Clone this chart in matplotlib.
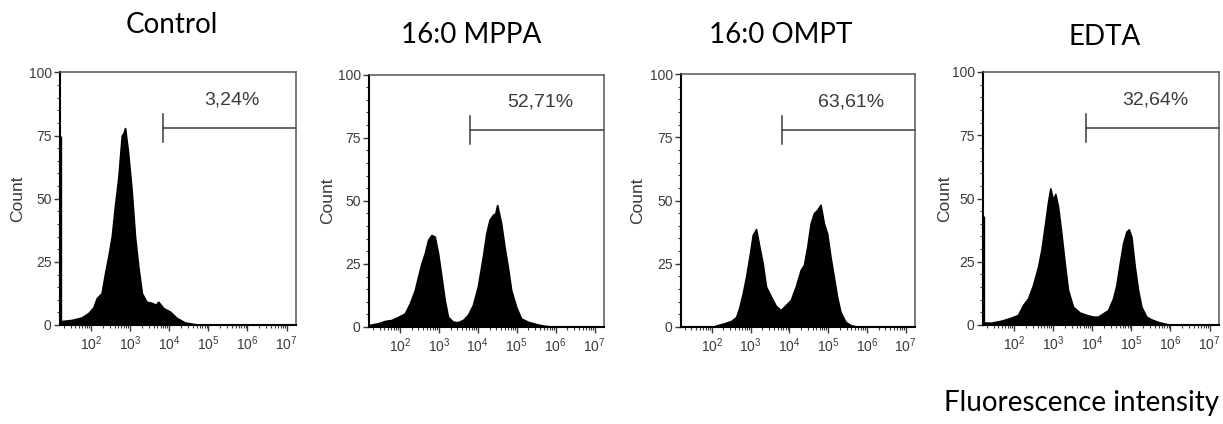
import numpy as np
import matplotlib
matplotlib.use("Agg")
import matplotlib.pyplot as plt
from matplotlib.ticker import MultipleLocator, FixedLocator, LogLocator, NullFormatter

# ---------------- data ----------------
titles = ["Control", "16:0 MPPA", "16:0 OMPT", "EDTA"]
gate_pct = ["3,24%", "52,71%", "63,61%", "32,64%"]
gate_start_log = [3.85, 3.81, 3.80, 3.84]   # log10 of gate start
gate_level = 78

# histogram outlines: log10(fluorescence) and count
ctrl_log = [1.207, 1.506, 1.76, 1.93, 2.06, 2.145, 2.27, 2.36, 2.44, 2.53, 2.61, 2.70,
            2.785, 2.83, 2.87, 2.95, 3.04, 3.125, 3.21, 3.30, 3.42, 3.55, 3.65, 3.72,
            3.85, 4.02, 4.19, 4.40, 4.66, 5.0]
ctrl_cnt = [1.5, 2, 3, 4.7, 7, 10.6, 12.6, 20.6, 27, 35, 47, 58.7,
            75, 76, 78, 68, 53, 35, 23, 12.6, 9.2, 8.8, 8, 9.2,
            6.7, 5.3, 2.8, 1, 0.3, 0]

mppa_log = [1.207, 1.445, 1.616, 1.787, 1.957, 2.128, 2.256, 2.383, 2.468, 2.554, 2.639,
            2.724, 2.81, 2.895, 2.98, 3.066, 3.15, 3.235, 3.363, 3.49, 3.62, 3.746, 3.874,
            4.0, 4.13, 4.217, 4.30, 4.387, 4.45, 4.498, 4.60, 4.685, 4.77, 4.856, 4.984,
            5.11, 5.28, 5.537, 5.71, 6.0]
mppa_cnt = [0.8, 1.5, 2.4, 2.8, 4, 5.4, 9.4, 14.6, 20, 25.2, 29.2,
            34.5, 36.4, 35.8, 29.2, 20, 10.7, 4, 2.1, 1.9, 2.8, 4.8, 8.7,
            16, 27.8, 37, 42.4, 44.4, 45, 48.3, 41, 31.8, 23.9, 14.7, 8,
            3.4, 2.1, 1, 0.5, 0]

ompt_log = [2.0, 2.161, 2.332, 2.503, 2.631, 2.716, 2.80, 2.887, 2.972, 3.057, 3.143,
            3.227, 3.312, 3.398, 3.526, 3.654, 3.78, 3.91, 4.038, 4.166, 4.294, 4.378,
            4.463, 4.55, 4.634, 4.72, 4.805, 4.89, 4.974, 5.06, 5.145, 5.23, 5.317,
            5.445, 5.57, 5.70, 5.9]
ompt_cnt = [0, 0.8, 1.5, 2.4, 4, 8, 13.3, 20, 27.8, 36.4, 38.7,
            31.8, 25.2, 16, 12, 8.3, 6.7, 8.7, 10.7, 16, 22.6, 24.6,
            31.8, 41, 45, 46.3, 48.3, 41, 37, 27.8, 20, 12, 6,
            2.1, 0.8, 0.3, 0]

edta_log = [1.207, 1.42, 1.675, 1.93, 2.102, 2.23, 2.358, 2.486, 2.614, 2.698, 2.784,
            2.87, 2.928, 2.997, 3.056, 3.125, 3.21, 3.296, 3.38, 3.509, 3.68, 3.85,
            4.02, 4.148, 4.276, 4.404, 4.532, 4.617, 4.703, 4.788, 4.873, 4.934, 5.0,
            5.087, 5.171, 5.256, 5.384, 5.512, 5.683, 6.0]
edta_cnt = [1, 0.9, 1.7, 2.9, 4, 7.9, 10.5, 15.8, 23, 29.6, 38.9,
            48.7, 54, 49.4, 51.8, 46.8, 36.2, 24.4, 13.8, 7.2, 4.9, 4,
            3.3, 3.3, 4.6, 5.9, 10.5, 15.8, 24.4, 32.3, 36.9, 37.8, 34.9,
            23, 13.8, 7.2, 3.3, 2.2, 1.2, 0]

hist_logs = [ctrl_log, mppa_log, ompt_log, edta_log]
hist_cnts = [ctrl_cnt, mppa_cnt, ompt_cnt, edta_cnt]
first_bin = [75, 0, 0, 43]   # off-scale events piled in the lowest channel

xtick_exp = [2, 3, 4, 5, 6, 7]
ytick_vals = [0, 25, 50, 75, 100]

# ---------------- layout ----------------
W, H = 1223, 424
fig = plt.figure(figsize=(W / 100, H / 100), dpi=100)

# pixel boxes: left, top, right, bottom
boxes = [(60, 72.5, 296, 325), (369, 74.5, 604, 327), (681, 74, 915, 327), (983, 72, 1219, 325)]
title_pos = [(172, 25), (471, 35), (781, 35), (1105, 37)]
count_x = [18, 328, 638, 945]

XMIN, XMAX = 10 ** 1.207, 10 ** 7.24
tick_font = "Liberation Sans"
title_font = "Lato"
gray = "#3a3a3a"

for i in range(4):
    l, t, r, b = boxes[i]
    ax = fig.add_axes([l / W, 1 - b / H, (r - l) / W, (b - t) / H])
    x = 10 ** np.array(hist_logs[i])
    y = np.array(hist_cnts[i])
    ax.fill_between(x, y, 0, color="black", lw=1.2, edgecolor="black")
    if first_bin[i] > 0:
        ax.vlines(XMIN * 1.012, 0, first_bin[i], color="black", lw=2.4, zorder=5)

    ax.set_xscale("log")
    ax.set_xlim(XMIN, XMAX)
    ax.set_ylim(0, 100)

    # gate
    gs = 10 ** gate_start_log[i]
    ax.plot([gs, XMAX], [gate_level, gate_level], color=gray, lw=1.1, clip_on=False)
    ax.plot([gs, gs], [gate_level - 5.5, gate_level + 5.5], color=gray, lw=1.1)
    ax.text(10 ** 5.6, 89, gate_pct[i], ha="center", va="center", fontsize=14,
            family=tick_font, color=gray)

    ax.xaxis.set_major_locator(FixedLocator([10.0 ** e for e in xtick_exp]))
    ax.set_xticklabels([r"$\mathregular{10^{%d}}$" % e for e in xtick_exp])
    ax.xaxis.set_minor_locator(LogLocator(base=10, subs=np.arange(2, 10), numticks=20))
    ax.xaxis.set_minor_formatter(NullFormatter())
    ax.yaxis.set_major_locator(FixedLocator(ytick_vals))
    ax.yaxis.set_minor_locator(MultipleLocator(5))
    ax.tick_params(axis="both", which="major", direction="out", length=4, width=1.0,
                   labelsize=10, colors=gray, pad=2)
    ax.tick_params(axis="both", which="minor", direction="out", length=2.2, width=0.8,
                   colors=gray)
    for lab in ax.get_xticklabels() + ax.get_yticklabels():
        lab.set_family(tick_font)
        lab.set_color(gray)
    ax.tick_params(axis="x", pad=3)

    for sp in ["top", "right"]:
        ax.spines[sp].set_color("#555555")
        ax.spines[sp].set_linewidth(1.1)
    for sp in ["left", "bottom"]:
        ax.spines[sp].set_color("black")
        ax.spines[sp].set_linewidth(1.5)

    fig.text(count_x[i] / W, 1 - ((t + b) / 2) / H, "Count", rotation=90, ha="center",
             va="center", fontsize=12.5, family=tick_font, color=gray)
    tx, ty = title_pos[i]
    fig.text(tx / W, 1 - ty / H, titles[i], ha="center", va="center", fontsize=20,
             family=title_font, color="black")

fig.text(944 / W, 1 - 403 / H, "Fluorescence intensity", ha="left", va="center",
         fontsize=20, family=title_font, color="black")

fig.savefig("out.png", dpi=100)
